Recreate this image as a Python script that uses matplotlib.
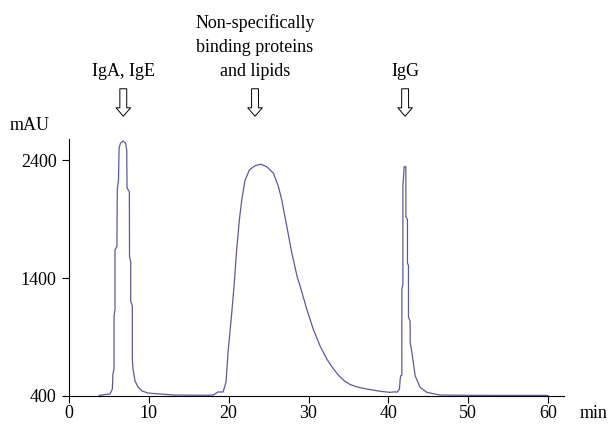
import matplotlib
matplotlib.use("Agg")
from matplotlib import pyplot as plt

# chromatogram points (time in min, absorbance in mAU)
tiempo = [3.8, 5.14, 5.43, 5.5, 5.64, 5.64, 5.76, 5.76, 6.0, 6.05, 6.2, 6.27, 6.45, 6.8,
          7.08, 7.23, 7.27, 7.56, 7.58, 7.73, 7.73, 7.93, 7.93, 8.02, 8.27, 8.65, 9.15,
          9.9, 11.4, 13.3, 17.0,
          18.05, 18.67, 19.3, 19.67, 19.92, 20.39, 20.71, 21.0, 21.34, 21.64, 22.06, 22.6,
          23.31, 24.02, 24.77, 25.6, 26.23, 26.65, 27.28, 27.9, 28.6, 28.95, 29.79, 30.6,
          31.45, 32.3, 33.1, 33.8, 34.5, 35.2, 36.0, 37.3, 38.97, 40.2, 40.85,
          41.07, 41.39, 41.48, 41.54, 41.69, 41.69, 41.82, 41.82, 41.98, 42.19, 42.19,
          42.39, 42.39, 42.52, 42.52, 42.73, 42.73, 42.94, 43.36, 43.98, 44.82, 46.49,
          50.0, 55.0, 60.0]
mau = [406, 417, 459, 586, 628, 1075, 1134, 1640, 1666, 2155, 2231, 2501, 2543, 2560,
       2543, 2484, 2164, 2130, 1581, 1539, 1202, 1168, 712, 628, 527, 476, 442,
       425, 417, 408, 406,
       408, 434, 434, 518, 771, 1109, 1362, 1641, 1894, 2062, 2231, 2316,
       2352, 2364, 2343, 2288, 2175, 2062, 1837, 1615, 1404, 1331, 1134, 965,
       824, 712, 632, 572, 528, 498, 478, 459, 440, 431, 436,
       431, 459, 543, 571, 577, 1303, 1345, 2175, 2343, 2343, 1921,
       1894, 1528, 1505, 1067, 1033, 856, 771, 571, 473, 431, 408,
       406, 405, 405]

etiquetas = ["IgA, IgE", "Non-specifically\nbinding proteins\nand lipids", "IgG"]
pos_etiquetas = [6.8, 23.3, 42.1]

plt.rcParams["font.family"] = ["Liberation Serif", "DejaVu Serif"]

fig = plt.figure(figsize=(6.1, 4.3), dpi=100)
ax = fig.add_axes([69 / 610, 1 - 396 / 430, 495 / 610, 257 / 430])

ax.plot(tiempo, mau, color="#5b5b9b", lw=0.9)

ax.set_xlim(0, 62)
ax.set_ylim(400, 2578)
ax.set_xticks([0, 10, 20, 30, 40, 50, 60])
ax.set_yticks([400, 1400, 2400])
ax.spines["top"].set_visible(False)
ax.spines["right"].set_visible(False)
ax.tick_params(direction="out", length=5, width=0.8, labelsize=13)
ax.tick_params(axis="x", pad=1.5)
ax.tick_params(axis="y", pad=4)

fig.text(10 / 610, 1 - 125 / 430, "mAU", fontsize=13, va="center", ha="left")
fig.text(580 / 610, 1 - 414 / 430, "min", fontsize=13, va="center", ha="left")

# labels and hollow arrows above the peaks
for nombre, t in zip(etiquetas, pos_etiquetas):
    ax.annotate(nombre, xy=(t, 0), xycoords=("data", "axes fraction"),
                xytext=(0, 1 - 80 / 430), textcoords=("offset points", "figure fraction"),
                ha="center", va="bottom", fontsize=13, linespacing=1.55,
                annotation_clip=False)
    ax.annotate("", xy=(t, 1 - 119 / 430), xycoords=("data", "figure fraction"),
                xytext=(t, 1 - 86 / 430), textcoords=("data", "figure fraction"),
                arrowprops=dict(arrowstyle="simple,head_length=0.55,head_width=0.95,tail_width=0.45",
                                fc="white", ec="black", lw=0.7, mutation_scale=11),
                annotation_clip=False)

fig.savefig("out.png", dpi=100)
